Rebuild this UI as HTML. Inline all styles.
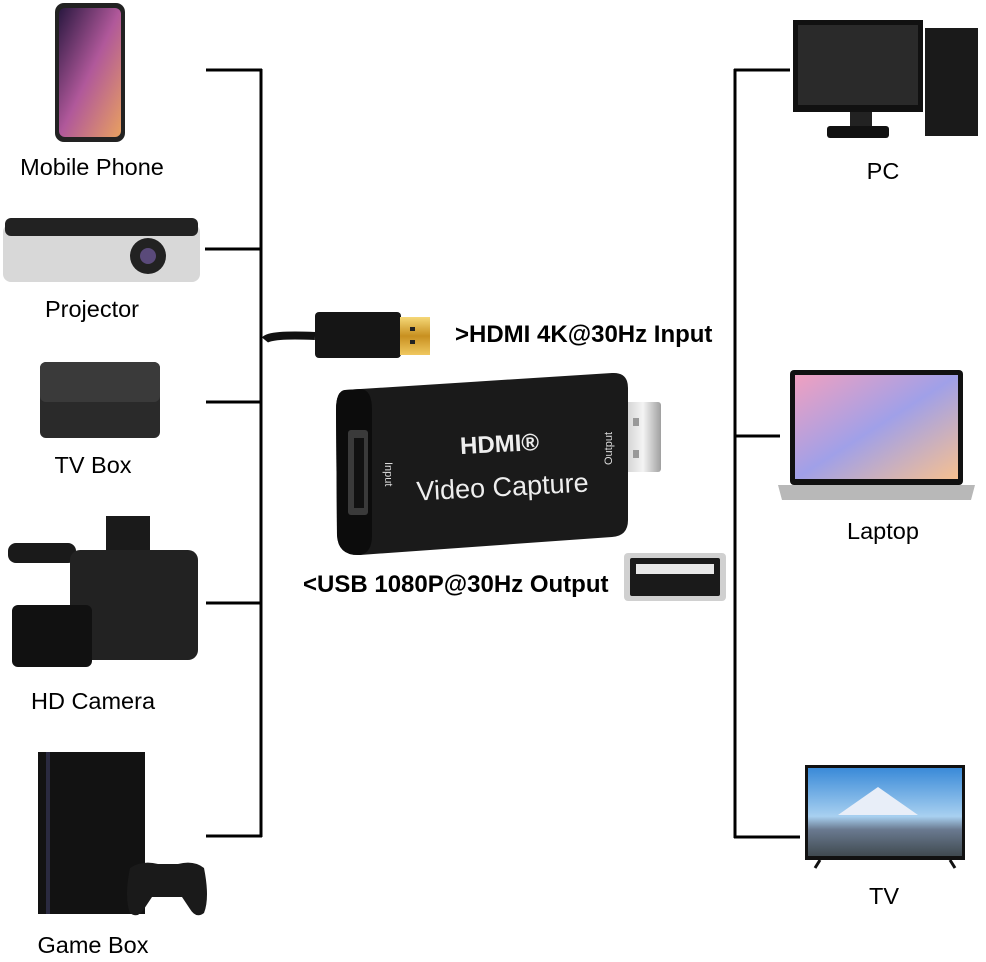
<!DOCTYPE html>
<html><head><meta charset="utf-8"><style>
html,body{margin:0;padding:0;background:#fff;}
svg{display:block;}
text{font-family:"Liberation Sans",Arial,sans-serif;}
</style></head><body>
<svg width="986" height="962" viewBox="0 0 986 962" xmlns="http://www.w3.org/2000/svg">
<defs>
<linearGradient id="ph" x1="0" y1="0" x2="1" y2="1"><stop offset="0" stop-color="#2a1840"/><stop offset="0.5" stop-color="#b0589a"/><stop offset="1" stop-color="#e8a060"/></linearGradient>
<linearGradient id="lap" x1="0" y1="0" x2="1" y2="1"><stop offset="0" stop-color="#f0a0c0"/><stop offset="0.5" stop-color="#a0a0e8"/><stop offset="1" stop-color="#f6c090"/></linearGradient>
<linearGradient id="tv" x1="0" y1="0" x2="0" y2="1"><stop offset="0" stop-color="#3a8ad8"/><stop offset="0.55" stop-color="#a8d0f0"/><stop offset="0.7" stop-color="#6a7a90"/><stop offset="1" stop-color="#404a50"/></linearGradient>
<linearGradient id="gold" x1="0" y1="0" x2="0" y2="1"><stop offset="0" stop-color="#f5d878"/><stop offset="0.5" stop-color="#c89020"/><stop offset="1" stop-color="#f0c860"/></linearGradient>
<linearGradient id="silver" x1="0" y1="0" x2="1" y2="0"><stop offset="0" stop-color="#d0d0d0"/><stop offset="0.5" stop-color="#f4f4f4"/><stop offset="1" stop-color="#a0a0a0"/></linearGradient>
</defs>
<g stroke="#000" stroke-width="3" fill="none">
<line x1="261" y1="69" x2="261" y2="837"/>
<line x1="206" y1="70" x2="262" y2="70"/>
<line x1="205" y1="249" x2="262" y2="249"/>
<line x1="206" y1="402" x2="262" y2="402"/>
<line x1="206" y1="603" x2="262" y2="603"/>
<line x1="206" y1="836" x2="262" y2="836"/>
<line x1="735" y1="69" x2="735" y2="838"/>
<line x1="734" y1="70" x2="790" y2="70"/>
<line x1="734" y1="436" x2="780" y2="436"/>
<line x1="734" y1="837" x2="800" y2="837"/>
</g>
<!-- phone -->
<rect x="55" y="3" width="70" height="139" rx="9" fill="#222"/>
<rect x="59" y="8" width="62" height="129" rx="6" fill="url(#ph)"/>
<text x="92" y="175" font-size="23.5" text-anchor="middle">Mobile Phone</text>
<!-- projector -->
<rect x="3" y="224" width="197" height="58" rx="8" fill="#d8d8d8"/>
<rect x="5" y="218" width="193" height="18" rx="6" fill="#222"/>
<circle cx="148" cy="256" r="18" fill="#222"/><circle cx="148" cy="256" r="8" fill="#5a4a7a"/>
<text x="92" y="317" font-size="23.5" text-anchor="middle">Projector</text>
<!-- tv box -->
<rect x="40" y="362" width="120" height="76" rx="6" fill="#2a2a2a"/>
<rect x="40" y="362" width="120" height="40" rx="6" fill="#3a3a3a"/>
<text x="93" y="473" font-size="23.5" text-anchor="middle">TV Box</text>
<!-- camera -->
<rect x="8" y="543" width="68" height="20" rx="8" fill="#1a1a1a"/>
<rect x="106" y="516" width="44" height="40" fill="#1a1a1a"/>
<rect x="70" y="550" width="128" height="110" rx="10" fill="#222"/>
<rect x="12" y="605" width="80" height="62" rx="6" fill="#111"/>
<text x="93" y="709" font-size="23.5" text-anchor="middle">HD Camera</text>
<!-- game box -->
<rect x="38" y="752" width="107" height="162" fill="#121212"/>
<rect x="46" y="752" width="4" height="162" fill="#2a2a40"/>
<path d="M130 868 q12-8 28-4 h20 q16-4 26 4 q6 30 0 45 q-8 6-14-4 l-8-12 h-30 l-8 12 q-6 10-14 4 q-6-15 0-45z" fill="#1a1a1a"/>
<text x="93" y="953" font-size="23.5" text-anchor="middle">Game Box</text>
<!-- PC -->
<rect x="793" y="20" width="130" height="92" fill="#111"/>
<rect x="798" y="25" width="120" height="80" fill="#2a2a2a"/>
<rect x="850" y="112" width="22" height="16" fill="#222"/>
<rect x="827" y="126" width="62" height="12" rx="3" fill="#111"/>
<rect x="925" y="28" width="53" height="108" fill="#1a1a1a"/>
<text x="883" y="179" font-size="23.5" text-anchor="middle">PC</text>
<!-- laptop -->
<rect x="790" y="370" width="173" height="115" rx="4" fill="#111"/>
<rect x="795" y="375" width="163" height="104" fill="url(#lap)"/>
<path d="M778 485 h197 l-4 15 h-189 z" fill="#b8b8b8"/>
<text x="883" y="539" font-size="23.5" text-anchor="middle">Laptop</text>
<!-- TV -->
<rect x="805" y="765" width="160" height="95" fill="#111"/>
<rect x="808" y="768" width="154" height="88" fill="url(#tv)"/>
<path d="M838 815 l40-28 l40 28 z" fill="#e8eef8"/>
<line x1="820" y1="860" x2="815" y2="868" stroke="#111" stroke-width="3"/>
<line x1="950" y1="860" x2="955" y2="868" stroke="#111" stroke-width="3"/>
<text x="884" y="904" font-size="23.5" text-anchor="middle">TV</text>
<!-- HDMI cable -->
<path d="M265 340 q5-6 50-4" stroke="#111" stroke-width="8" fill="none"/>
<rect x="315" y="312" width="86" height="46" rx="4" fill="#151515"/>
<rect x="400" y="317" width="30" height="38" fill="url(#gold)"/>
<rect x="410" y="327" width="5" height="4" fill="#222"/><rect x="410" y="340" width="5" height="4" fill="#222"/>
<text x="455" y="342" font-size="24" font-weight="bold">&gt;HDMI 4K@30Hz Input</text>
<!-- USB plug -->
<rect x="625" y="402" width="36" height="70" rx="3" fill="url(#silver)"/>
<rect x="633" y="418" width="6" height="8" fill="#999"/><rect x="633" y="450" width="6" height="8" fill="#999"/>
<!-- capture body -->
<path d="M345 390 L612 373 Q628 372 628 388 L628 520 Q628 536 612 537 L360 555 Q338 556 337 535 L336 410 Q336 391 345 390z" fill="#1a1a1a"/>
<path d="M345 390 L360 389 Q372 389 372 410 L372 535 Q372 553 360 555 Q338 556 337 535 L336 410 Q336 391 345 390z" fill="#0c0c0c"/>
<rect x="348" y="430" width="20" height="85" rx="3" fill="#3a3a3a"/>
<rect x="354" y="438" width="10" height="70" fill="#111"/>
<text x="500" y="452" font-size="24" font-weight="bold" fill="#eee" text-anchor="middle" transform="rotate(-3 500 452)">HDMI®</text>
<text x="503" y="496" font-size="27" fill="#eee" text-anchor="middle" transform="rotate(-3 503 496)">Video Capture</text>
<text x="0" y="0" font-size="11" fill="#ddd" transform="translate(385 462) rotate(90)">Input</text>
<text x="0" y="0" font-size="11" fill="#ddd" transform="translate(612 465) rotate(-90)">Output</text>
<text x="303" y="592" font-size="24" font-weight="bold">&lt;USB 1080P@30Hz Output</text>
<!-- USB port -->
<rect x="624" y="553" width="102" height="48" rx="4" fill="#d0d0d0"/>
<rect x="630" y="558" width="90" height="38" rx="2" fill="#1a1a1a"/>
<rect x="636" y="564" width="78" height="10" fill="#e8e8e8"/>
</svg>
</body></html>
